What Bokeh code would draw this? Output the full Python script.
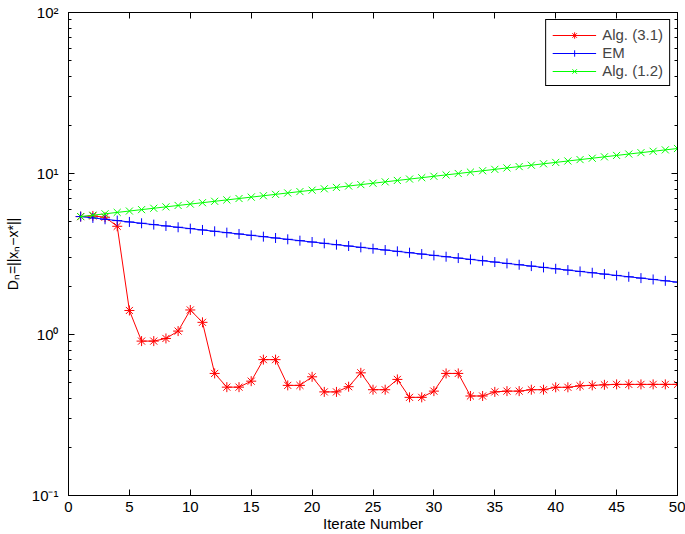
from bokeh.plotting import figure
from bokeh.models import FixedTicker, LinearAxis, LogAxis, Legend, LegendItem, Range1d
from bokeh.embed import file_html
from bokeh.resources import INLINE

iterations = list(range(1, 51))

alg31 = [5.40, 5.45, 5.35, 4.70, 1.41, 0.91, 0.91, 0.945, 1.05, 1.42,
         1.19, 0.573, 0.471, 0.471, 0.513, 0.698, 0.698, 0.483, 0.483, 0.546,
         0.44, 0.44, 0.474, 0.578, 0.454, 0.454, 0.526, 0.407, 0.407, 0.445,
         0.573, 0.573, 0.415, 0.415, 0.440, 0.445, 0.445, 0.454, 0.454, 0.470,
         0.470, 0.480, 0.483, 0.487, 0.490, 0.490, 0.490, 0.490, 0.490, 0.490]

em = [5.40, 5.298, 5.197, 5.099, 5.002, 4.907, 4.814, 4.723, 4.634, 4.546,
      4.460, 4.375, 4.292, 4.211, 4.131, 4.053, 3.976, 3.901, 3.827, 3.754,
      3.683, 3.613, 3.545, 3.478, 3.412, 3.347, 3.284, 3.221, 3.160, 3.100,
      3.042, 2.984, 2.927, 2.872, 2.818, 2.764, 2.712, 2.660, 2.610, 2.560,
      2.512, 2.464, 2.418, 2.372, 2.327, 2.283, 2.240, 2.197, 2.155, 2.115]

alg12 = [5.40, 5.508, 5.619, 5.732, 5.847, 5.964, 6.084, 6.206, 6.331, 6.458,
         6.587, 6.720, 6.854, 6.992, 7.132, 7.275, 7.421, 7.570, 7.722, 7.877,
         8.035, 8.197, 8.361, 8.529, 8.700, 8.875, 9.053, 9.235, 9.420, 9.609,
         9.802, 9.999, 10.20, 10.40, 10.61, 10.83, 11.04, 11.26, 11.49, 11.72,
         11.96, 12.20, 12.44, 12.69, 12.95, 13.21, 13.47, 13.74, 14.02, 14.30]

series_names = ["Alg. (3.1)", "EM", "Alg. (1.2)"]

x_ticks = [0, 5, 10, 15, 20, 25, 30, 35, 40, 45, 50]
y_ticks = [0.1, 1, 10, 100]
y_tick_labels = {0.1: "10\u207b\u00b9", 1: "10\u2070", 10: "10\u00b9", 100: "10\u00b2"}
y_minor = [m * d for d in (0.1, 1, 10) for m in range(2, 10)]

FONT = "Liberation Sans"

p = figure(width=685, height=534, y_axis_type="log",
           x_range=Range1d(0, 50), y_range=Range1d(0.1, 100),
           output_backend="svg", toolbar_location=None,
           min_border_left=68, min_border_right=8, min_border_top=12, min_border_bottom=39)

p.xgrid.visible = False
p.ygrid.visible = False
p.outline_line_color = "black"
p.outline_line_width = 1
p.outline_line_alpha = 1
p.background_fill_color = "white"
p.border_fill_color = "white"


def style_axis(ax, ticker):
    ax.ticker = ticker
    ax.major_tick_in = 6
    ax.major_tick_out = 0
    ax.minor_tick_in = 3
    ax.minor_tick_out = 0
    ax.axis_line_color = "black"
    ax.major_tick_line_color = "black"
    ax.minor_tick_line_color = "black"
    ax.major_label_text_font = FONT
    ax.major_label_text_font_size = "15px"
    ax.major_label_text_color = "black"
    ax.axis_label_text_font = FONT
    ax.axis_label_text_font_size = "15px"
    ax.axis_label_text_font_style = "normal"
    ax.axis_label_text_color = "black"


xt = FixedTicker(ticks=x_ticks, minor_ticks=[])
yt = FixedTicker(ticks=y_ticks, minor_ticks=y_minor)

style_axis(p.xaxis[0], xt)
p.xaxis[0].axis_label = "Iterate Number"
p.xaxis[0].major_label_standoff = 6
p.xaxis[0].axis_label_standoff = 0

style_axis(p.yaxis[0], yt)
p.yaxis[0].axis_label = "D\u2099=||x\u2099\u2212x*||"
p.yaxis[0].axis_label_text_font_size = "14px"
p.yaxis[0].major_label_overrides = y_tick_labels
p.yaxis[0].major_label_standoff = 10
p.yaxis[0].axis_label_standoff = 8

top_ax = LinearAxis()
style_axis(top_ax, FixedTicker(ticks=x_ticks, minor_ticks=[]))
top_ax.major_label_overrides = {t: "" for t in x_ticks}
top_ax.major_label_standoff = 0
p.add_layout(top_ax, "above")

right_ax = LogAxis()
style_axis(right_ax, FixedTicker(ticks=y_ticks, minor_ticks=y_minor))
right_ax.major_label_overrides = {t: "" for t in y_ticks}
right_ax.major_label_standoff = 0
p.add_layout(right_ax, "right")

colors = ["#ff0000", "#0000ff", "#00ff00"]
markers = ["asterisk", "cross", "x"]
datasets = [alg31, em, alg12]

items = []
for name, data, c, m in zip(series_names, datasets, colors, markers):
    l = p.line(iterations, data, line_color=c, line_width=1)
    s = p.scatter(iterations, data, marker=m, size=10, line_color=c, line_width=1, fill_color=None)
    items.append(LegendItem(label=name, renderers=[l, s]))

legend = Legend(items=items, location="top_right")
legend.margin = 7
legend.padding = 6
legend.spacing = 1
legend.glyph_width = 44
legend.glyph_height = 16
legend.label_height = 16
legend.label_text_font = FONT
legend.label_text_font_size = "15px"
legend.label_standoff = 6
legend.border_line_color = "black"
legend.border_line_width = 1
legend.border_line_alpha = 1
legend.background_fill_alpha = 1
p.add_layout(legend, "center")

open("out.html", "w").write(file_html(p, INLINE))
